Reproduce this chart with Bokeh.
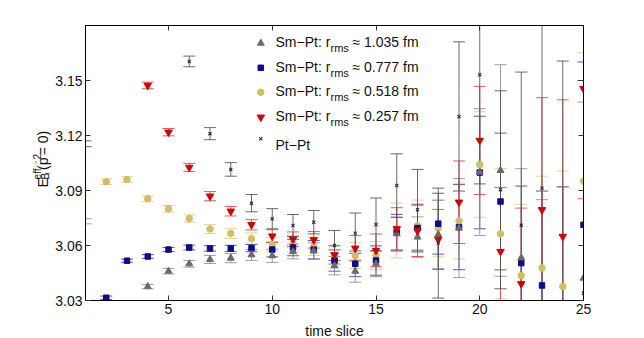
import numpy as np
from bokeh.plotting import figure
from bokeh.layouts import row
from bokeh.core.properties import value
from bokeh.models import (Range1d, FixedTicker, LinearAxis, PrintfTickFormatter,
                          CustomJSTickFormatter, Label, ColumnDataSource)
from bokeh.embed import file_html
from bokeh.resources import INLINE

# ---------------- data ----------------
X_TICKS = [5, 10, 15, 20, 25]
Y_TICKS = [3.03, 3.06, 3.09, 3.12, 3.15]
X_LO, X_HI = 1, 25
Y_LO, Y_HI = 3.03, 3.18

# Sm-Pt r_rms ~ 1.035 fm (grey triangles)
gray_t = [1, 4, 5, 6, 7, 8, 9, 10, 11, 12, 13, 14, 15, 16, 17, 18, 19, 20, 21, 22, 23, 24, 25]
gray_E = [3.0732, 3.0376, 3.0460, 3.0500, 3.0524, 3.0531, 3.0549, 3.0544, 3.0567, 3.0570,
          3.0490, 3.0460, 3.0500, 3.0664, 3.0646, 3.0660, 3.0695, 3.1000, 3.1009, 3.0533,
          3.0280, 3.0200, 3.0422]
gray_err = [0.0014, 0.0012, 0.0015, 0.0018, 0.0022, 0.0025, 0.0030, 0.0036, 0.0040, 0.0045,
            0.0050, 0.0060, 0.0070, 0.0090, 0.0110, 0.0186, 0.0270, 0.0346, 0.0577, 0.0486,
            0.0570, 0.0720, 0.0960]

# Sm-Pt r_rms ~ 0.777 fm (blue squares)
blue_t = [1, 2, 3, 4, 5, 6, 7, 8, 9, 10, 11, 12, 13, 14, 15, 16, 17, 18, 19, 20, 21, 22, 23, 24, 25]
blue_E = [3.1155, 3.0315, 3.0517, 3.0540, 3.0578, 3.0589, 3.0584, 3.0584, 3.0586, 3.0578,
          3.0589, 3.0577, 3.0518, 3.0500, 3.0518, 3.0670, 3.0695, 3.0719, 3.0700, 3.0998,
          3.0840, 3.0504, 3.0382, 3.0250, 3.0713]
blue_err = [0.0016, 0.0009, 0.0009, 0.0010, 0.0011, 0.0013, 0.0015, 0.0017, 0.0020, 0.0040,
            0.0045, 0.0050, 0.0058, 0.0070, 0.0080, 0.0100, 0.0130, 0.0166, 0.0232, 0.0307,
            0.0373, 0.0420, 0.0515, 0.0670, 0.0888]

# Sm-Pt r_rms ~ 0.518 fm (gold circles)
gold_t = [2, 3, 4, 5, 6, 7, 8, 9, 10, 11, 12, 13, 14, 15, 16, 17, 18, 19, 20, 21, 22, 23, 24, 25]
gold_E = [3.0948, 3.0960, 3.0855, 3.0800, 3.0747, 3.0690, 3.0666, 3.0637, 3.0607, 3.0610,
          3.0596, 3.0536, 3.0545, 3.0545, 3.0682, 3.0708, 3.0695, 3.0733, 3.1042, 3.0664,
          3.0436, 3.0478, 3.0376, 3.0951]
gold_err = [0.0015, 0.0015, 0.0016, 0.0018, 0.0020, 0.0024, 0.0028, 0.0032, 0.0038, 0.0045,
            0.0050, 0.0060, 0.0070, 0.0077, 0.0150, 0.0140, 0.0157, 0.0207, 0.0288, 0.0355,
            0.0387, 0.0500, 0.0630, 0.0700]

# Sm-Pt r_rms ~ 0.257 fm (red down-triangles)
red_t = [4, 5, 6, 7, 8, 9, 10, 11, 12, 13, 14, 15, 16, 17, 18, 19, 20, 21, 22, 23, 24, 25]
red_E = [3.1473, 3.1218, 3.1026, 3.0869, 3.0787, 3.0713, 3.0651, 3.0634, 3.0631, 3.0549,
         3.0585, 3.0573, 3.0691, 3.0680, 3.0633, 3.0836, 3.1173, 3.0567, 3.0391, 3.0795,
         3.0649, 3.1455]
red_err = [0.0018, 0.0020, 0.0022, 0.0025, 0.0026, 0.0028, 0.0035, 0.0040, 0.0045, 0.0050,
           0.0069, 0.0090, 0.0115, 0.0140, 0.0164, 0.0225, 0.0295, 0.0350, 0.0413, 0.0611,
           0.0746, 0.0600]

# Pt-Pt (crosses)
pt_t = [6, 7, 8, 9, 10, 11, 12, 13, 14, 15, 16, 17, 18, 19, 20, 21, 22, 23, 24, 25]
pt_E = [3.1604, 3.1210, 3.1015, 3.0831, 3.0746, 3.0709, 3.0727, 3.0600, 3.0667, 3.0715,
        3.0927, 3.0795, 3.0613, 3.1304, 3.1531, 3.0904, 3.0711, 3.0913, 3.0250, 3.0340]
pt_err = [0.0029, 0.0033, 0.0037, 0.0047, 0.0055, 0.0060, 0.0064, 0.0082, 0.0110, 0.0144,
          0.0173, 0.0220, 0.0300, 0.0407, 0.0595, 0.0540, 0.0835, 0.1000, 0.1356, 0.1160]

SERIES = [
    # (r_rms label, t, E, err, marker, size, marker colour, bar colour)
    ("1.035", gray_t, gray_E, gray_err, "triangle", 7, "#6a6a6a", "#8c8c8c"),
    ("0.777", blue_t, blue_E, blue_err, "square", 5.5, "#0c0c8e", "#3a3ab8"),
    ("0.518", gold_t, gold_E, gold_err, "circle", 6.5, "#d3be62", "#dccb7e"),
    ("0.257", red_t, red_E, red_err, "inverted_triangle", 7.5, "#d20000", "#dd3c3c"),
    (None, pt_t, pt_E, pt_err, "x", 4.5, "#2a2a2a", "#505050"),
]
DRAW_ORDER = [2, 1, 0, 3, 4]

FONT = "Liberation Sans"
TXT = "#111111"

# ---------------- layout sizes ----------------
W_TOTAL, H_TOTAL = 644, 338
YLAB_W = 52                       # narrow strip holding the rotated y-axis title
FRAME_W, FRAME_H = 500, 275
FRAME_LEFT, FRAME_TOP = 83, 25

# ---------------- main figure ----------------
p = figure(width=W_TOTAL - YLAB_W, height=H_TOTAL,
           x_range=Range1d(X_LO, X_HI), y_range=Range1d(Y_LO, Y_HI),
           output_backend="svg", toolbar_location=None,
           min_border_left=FRAME_LEFT - YLAB_W,
           min_border_right=W_TOTAL - FRAME_LEFT - FRAME_W,
           min_border_top=FRAME_TOP,
           min_border_bottom=H_TOTAL - FRAME_TOP - FRAME_H)
p.xgrid.visible = False
p.ygrid.visible = False
p.outline_line_color = "black"
p.outline_line_width = 1
p.background_fill_color = "white"
p.border_fill_color = "white"

p.xaxis.ticker = FixedTicker(ticks=X_TICKS)
p.yaxis.ticker = FixedTicker(ticks=Y_TICKS)
p.yaxis.formatter = PrintfTickFormatter(format="%.2f")
for ax in [p.xaxis[0], p.yaxis[0]]:
    ax.major_tick_in = 5
    ax.major_tick_out = 0
    ax.minor_tick_in = 0
    ax.minor_tick_out = 0
    ax.axis_line_color = "black"
    ax.major_tick_line_color = "#333333"
    ax.major_label_text_font = FONT
    ax.major_label_text_font_size = "14px"
    ax.major_label_text_color = TXT
p.xaxis.major_label_standoff = 3
p.yaxis.major_label_standoff = 3

for loc, tk in [("above", X_TICKS), ("right", Y_TICKS)]:
    ax = LinearAxis(ticker=FixedTicker(ticks=tk), major_tick_in=5, major_tick_out=0,
                    minor_tick_in=0, minor_tick_out=0, axis_line_color="black",
                    major_tick_line_color="#333333",
                    formatter=CustomJSTickFormatter(code="return ''"),
                    major_label_standoff=0)
    p.add_layout(ax, loc)

# ---------------- error bars + markers ----------------
for i in DRAW_ORDER:
    _, t, E, err, mk, sz, mc, bc = SERIES[i]
    t = np.array(t, float); E = np.array(E); err = np.array(err)
    src = ColumnDataSource(dict(t=t, lo=E - err, hi=E + err))
    p.segment(x0="t", y0="lo", x1="t", y1="hi", source=src, line_color=bc, line_width=1, line_alpha=0.85)
    p.scatter(x="t", y="lo", source=src, marker="dash", size=12, line_color=bc, line_width=1, line_alpha=0.85)
    p.scatter(x="t", y="hi", source=src, marker="dash", size=12, line_color=bc, line_width=1, line_alpha=0.85)

for i in DRAW_ORDER:
    _, t, E, err, mk, sz, mc, bc = SERIES[i]
    t = np.array(t, float); E = np.array(E)
    m = t > X_LO
    if mk == "x":
        p.scatter(x=t[m], y=E[m], marker="x", size=sz, line_color=mc, line_width=1.1)
    else:
        p.scatter(x=t[m], y=E[m], marker=mk, size=sz, fill_color=mc, line_color=mc)


def lab(text, x, y, xo, yo, size, align="left", place="center"):
    lb = Label(x=x, y=y, x_offset=xo, y_offset=yo, text=text, text_font=FONT,
               text_font_size=f"{size}px", text_color=TXT,
               text_align=align, text_baseline="alphabetic")
    p.add_layout(lb, place)


# ---------------- legend ----------------
PX_X = FRAME_W / (X_HI - X_LO)
PX_Y = FRAME_H / (Y_HI - Y_LO)
LEG_MARK_DX = 176
LEG_TEXT_DX = 190
LEG_MARK_DY = [17.7, 42.3, 66.7, 91.7, 113.3]
LEG_TEXT_DY = [16.7, 41.7, 65.7, 90.7, 119.0]
for k, s in enumerate(SERIES):
    rv, _, _, _, mk, sz, mc, _ = s
    lx = X_LO + LEG_MARK_DX / PX_X
    ly = Y_HI - LEG_MARK_DY[k] / PX_Y
    if mk == "x":
        p.scatter(x=[lx], y=[ly], marker="x", size=sz, line_color=mc, line_width=1.1)
    else:
        p.scatter(x=[lx], y=[ly], marker=mk, size=sz, fill_color=mc, line_color=mc)
    dy = -LEG_TEXT_DY[k]
    if rv is None:
        lab("Pt\u2212Pt", X_LO, Y_HI, LEG_TEXT_DX, dy, 14)
    else:
        lab("Sm\u2212Pt: r", X_LO, Y_HI, LEG_TEXT_DX, dy, 14)
        lab("rms", X_LO, Y_HI, LEG_TEXT_DX + 55, dy - 6, 11)
        lab("\u2248 " + rv + " fm", X_LO, Y_HI, LEG_TEXT_DX + 77, dy, 14)

# x-axis title (side panel, so it is not clipped)
lab("time slice", (X_LO + X_HI) / 2, Y_LO, 0, -30.5, 14, align="center", place="below")

# ---------------- y-axis title strip ----------------
yl = figure(width=YLAB_W, height=H_TOTAL, x_range=Range1d(0, YLAB_W), y_range=Range1d(0, H_TOTAL),
            output_backend="svg", toolbar_location=None,
            x_axis_location=None, y_axis_location=None,
            min_border_left=0, min_border_right=0, min_border_top=0, min_border_bottom=0)
yl.grid.visible = False
yl.outline_line_color = None
yl.background_fill_color = "white"
yl.border_fill_color = "white"

BASE_X = 42                 # baseline of the rotated text (px from left)
START_Y = H_TOTAL - 199     # start of the text (px from bottom)
A = np.pi / 2
YLAB_PIECES = [("E", 0, 0, 14, "left"),
               ("eff", -5.5, 9.8, 10, "left"),
               ("B", 3, 9.8, 10, "left"),
               ("i", 4.5, 16.6, 7, "left"),
               ("(p", 0, 21.5, 14, "left"),
               ("\u2192", -8.5, 30.1, 7, "center"),
               ("2", -5.5, 34.2, 10, "left"),
               (" = 0)", 0, 39.5, 14, "left")]
for txt, dx, dy, sz, al in YLAB_PIECES:
    yl.text(x=[BASE_X + dx], y=[START_Y + dy], text=[txt], angle=A,
            text_font=value(FONT), text_font_size=value(f"{sz}px"), text_color=TXT,
            text_align=al, text_baseline="alphabetic")

layout = row(yl, p)
open("out.html", "w").write(file_html(layout, INLINE))
